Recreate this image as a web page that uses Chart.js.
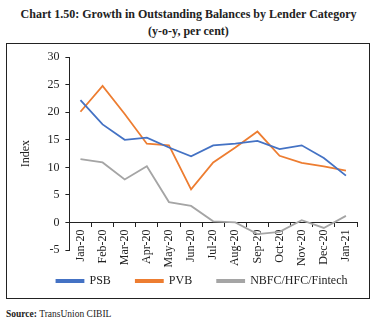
<!DOCTYPE html>
<html>
<head>
<meta charset="utf-8">
<script src="https://cdn.jsdelivr.net/npm/chart.js@4.4.1/dist/chart.umd.min.js"></script>
<style>
  body { margin: 0; background: #fff; font-family: "Liberation Serif", serif; color: #222; }
  #page { position: relative; width: 377px; height: 325px; }
  .title { position: absolute; left: 0; width: 377px; text-align: center; font-weight: bold; }
  #t1 { top: 7px; font-size: 12px; }
  #t2 { top: 24px; font-size: 12px; }
  #box { position: absolute; left: 6px; top: 43px; width: 362px; height: 254px; border: 1px solid #222; }
  #source { position: absolute; left: 6px; top: 309px; font-size: 9.5px; }
</style>
</head>
<body>
<div id="page">
  <div class="title" id="t1">Chart 1.50: Growth in Outstanding Balances by Lender Category</div>
  <div class="title" id="t2">(y-o-y, per cent)</div>
  <div id="box"><canvas id="myChart" width="362" height="254"></canvas></div>
  <div id="source"><b>Source:</b> TransUnion CIBIL</div>
</div>
<script>
let months = ["Jan-20", "Feb-20", "Mar-20", "Apr-20", "May-20", "Jun-20", "Jul-20",
    "Aug-20", "Sep-20", "Oct-20", "Nov-20", "Dec-20", "Jan-21"];
let psb = [22.2, 17.8, 15.0, 15.4, 13.6, 12.0, 14.0, 14.3, 14.8, 13.3, 14.0, 11.7, 8.5];
let pvb = [20.1, 24.8, 19.7, 14.3, 14.0, 6.0, 10.9, 13.6, 16.5, 12.1, 10.8, 10.2, 9.4];
let nbfc = [11.5, 10.9, 7.8, 10.2, 3.7, 3.0, 0.2, 0.0, -2.1, -1.7, 0.4, -1.0, 1.2];
let yTicks = [-5, 0, 5, 10, 15, 20, 25, 30];

const font = { family: "'Liberation Serif', serif", size: 12 };

function series(label, data, color) {
    return {
        label: label,
        data: data,
        borderColor: color,
        backgroundColor: color,
        borderWidth: 1.8,
        pointRadius: 0,
        tension: 0,
    };
}

// nudge the legend right so it sits under the plot area
const legendShift = {
    id: "legendShift",
    afterLayout(chart) {
        chart.legend.left += 18;
        chart.legend.right += 18;
    },
};

new Chart(document.getElementById("myChart"), {
    type: "line",
    data: {
        labels: months,
        datasets: [
            series("PSB", psb, "#4472C4"),
            series("PVB", pvb, "#ED7D31"),
            series("NBFC/HFC/Fintech", nbfc, "#A5A5A5"),
        ],
    },
    plugins: [legendShift],
    options: {
        responsive: false,
        animation: false,
        layout: { padding: { left: 4, right: 12, top: 6, bottom: 1 } },
        plugins: {
            tooltip: { enabled: false },
            legend: {
                position: "bottom",
                labels: {
                    boxWidth: 27,
                    boxHeight: 2,
                    padding: 25,
                    color: "#222",
                    font: font,
                },
            },
        },
        scales: {
            x: {
                // axis line sits on zero, labels hang below it
                position: { y: 0 },
                offset: true,
                grid: {
                    offset: true,
                    drawOnChartArea: false,
                    drawTicks: true,
                    tickLength: 4,
                    color: "#222",
                },
                border: { color: "#222" },
                ticks: {
                    color: "#222",
                    font: font,
                    maxRotation: 90,
                    minRotation: 90,
                    autoSkip: false,
                },
            },
            y: {
                min: -5,
                max: 30,
                afterBuildTicks: (axis) => {
                    axis.ticks = yTicks.map((v) => ({ value: v }));
                },
                grid: {
                    drawOnChartArea: false,
                    drawTicks: true,
                    tickLength: 4,
                    color: "#222",
                },
                border: { color: "#222" },
                ticks: { color: "#222", font: font, padding: 6 },
                title: {
                    display: true,
                    text: "Index",
                    color: "#222",
                    font: font,
                    padding: 8,
                },
            },
        },
    },
});
</script>
</body>
</html>
